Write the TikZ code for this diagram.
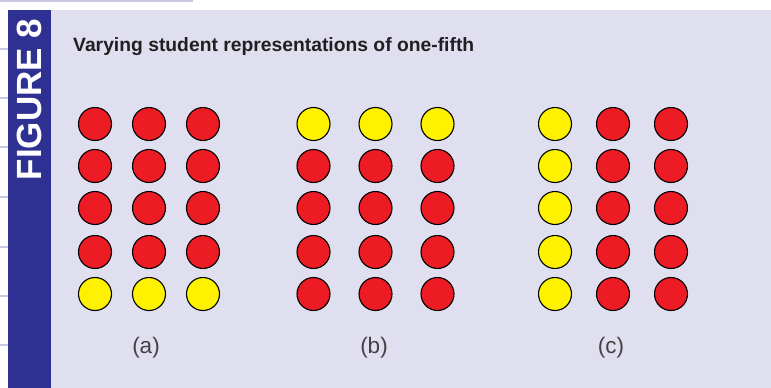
\documentclass[tikz,border=0pt]{standalone}
\usepackage{fontspec}
\setmainfont{Liberation Sans}
\usetikzlibrary{positioning}
\definecolor{panelbg}{HTML}{DFDFF0}
\definecolor{barblue}{HTML}{2E3192}
\definecolor{ticklav}{HTML}{C8C8E2}
\definecolor{dotred}{HTML}{ED1C24}
\definecolor{dotyellow}{HTML}{FFF200}
\definecolor{inkgray}{HTML}{231F20}
\tikzset{
  % prikkar
  dot/.style={circle,draw=black,line width=1.1pt,inner sep=0pt,minimum size=33pt},
  rd/.style={dot,fill=dotred},
  yl/.style={dot,fill=dotyellow},
  % text
  sublbl/.style={font=\fontsize{22.5}{26}\selectfont,text=inkgray!85,inner sep=0pt},
  ttl/.style={font=\fontsize{19.3}{24}\selectfont\bfseries,text=inkgray,inner sep=0pt,anchor=base west},
  tickln/.style={draw=ticklav,line width=2.5pt},
}
\begin{document}
\begin{tikzpicture}[x=1pt,y=-1pt]
  \useasboundingbox (0,0) rectangle (771,388);
  % ram
  \draw[ticklav,line width=1.5pt] (0,0.75) -- (193,0.75);
  \foreach \ty in {49,98,147,197,247,296,345}
    \draw[tickln] (0,\ty) -- (8,\ty);
  \fill[panelbg] (8,10) rectangle (771,388);
  \fill[barblue] (8,10) rectangle (51,388);
  \node[rotate=90,text=white,font=\fontsize{35}{40}\selectfont\bfseries,inner sep=0pt] (fig) at (29.5,99.5) {FIGURE 8};
  \node[ttl] (title) at (73,51.5) {Varying student representations of one-fifth};
  % (a): nedersta raden gul
  \foreach \r/\y/\s in {1/124/rd,2/166/rd,3/208/rd,4/252/rd,5/294/yl}
    \foreach \c/\x in {1/95,2/149,3/203}
      \node[\s] (a-\r-\c) at (\x,\y) {};
  % (b): oversta raden gul
  \foreach \r/\y/\s in {1/124/yl,2/166/rd,3/208/rd,4/252/rd,5/294/rd}
    \foreach \c/\x in {1/313.5,2/375.5,3/437.5}
      \node[\s] (b-\r-\c) at (\x,\y) {};
  % (c): forsta kolumnen gul
  \foreach \r/\y in {1/124,2/166,3/208,4/252,5/294}
    \foreach \c/\x/\s in {1/555/yl,2/613/rd,3/671/rd}
      \node[\s] (c-\r-\c) at (\x,\y) {};
  \node[sublbl] (la) at (146,348) {(a)};
  \node[sublbl] (lb) at (374,348) {(b)};
  \node[sublbl] (lc) at (611,348) {(c)};
\end{tikzpicture}
\end{document}
